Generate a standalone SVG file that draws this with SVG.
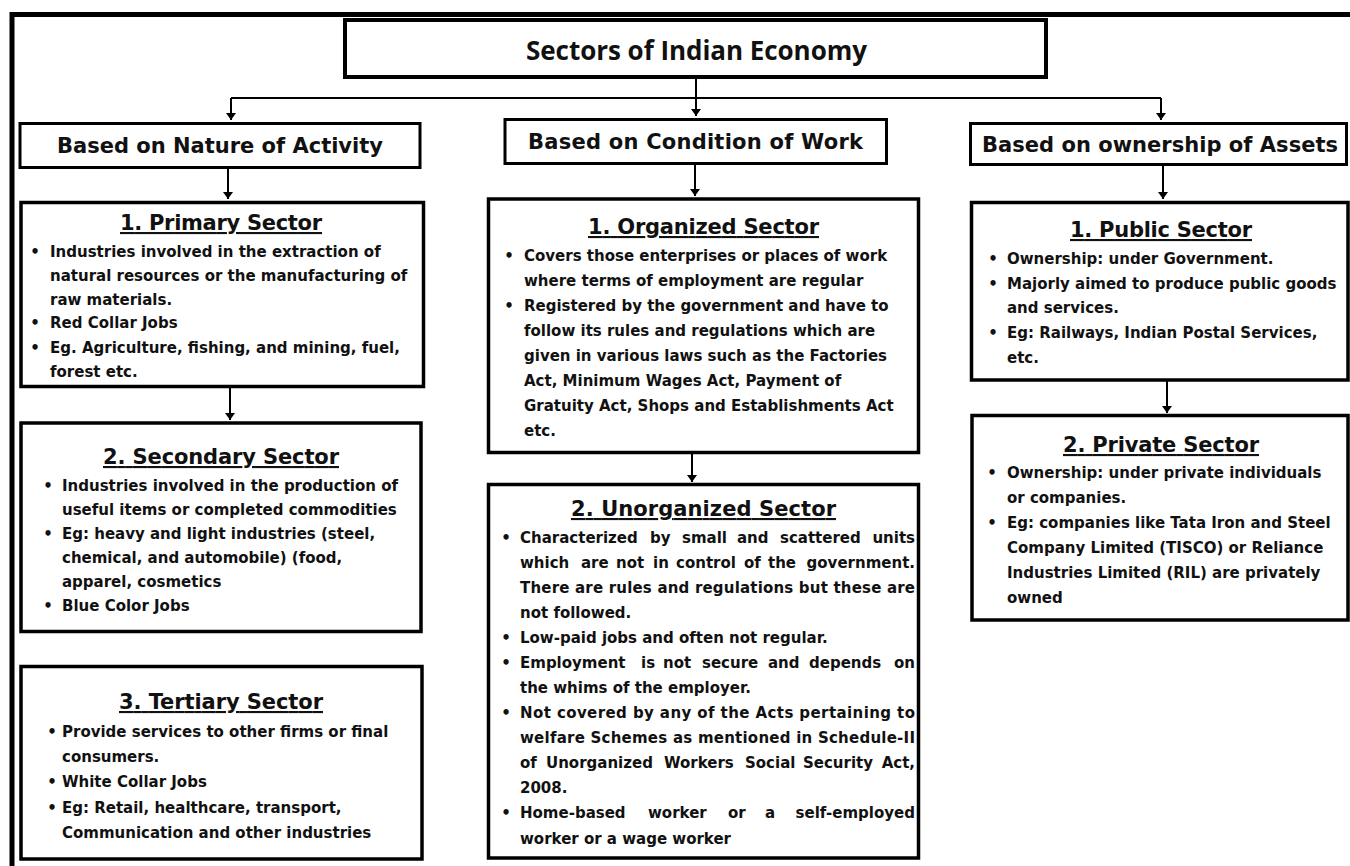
<svg xmlns="http://www.w3.org/2000/svg" width="1350" height="866" viewBox="0 0 1350 866">
<defs>
<marker id="arr" markerUnits="userSpaceOnUse" markerWidth="10" markerHeight="10" refX="7" refY="5" orient="auto">
<path d="M0,0 L7,5 L0,10 z" fill="#000"/>
</marker>
<style>
.box{fill:#fff;stroke:#000;stroke-width:3.5}
.hbox{fill:#fff;stroke:#000;stroke-width:3}
.tbox{fill:#fff;stroke:#000;stroke-width:4}
.t{font-family:"DejaVu Sans","Liberation Sans",sans-serif;font-weight:bold;font-size:15px;fill:#111}
.b{text-anchor:middle}
.e{text-anchor:end}
.h{font-family:"DejaVu Sans","Liberation Sans",sans-serif;font-weight:bold;font-size:21px;fill:#111;text-anchor:middle}
.st{font-family:"DejaVu Sans","Liberation Sans",sans-serif;font-weight:bold;font-size:21px;fill:#111;text-anchor:middle;text-decoration:underline}
.title{font-family:"Open Sans","Liberation Sans",sans-serif;font-weight:bold;font-size:26px;fill:#111;text-anchor:middle}
.conn{stroke:#000;stroke-width:2;fill:none}
</style>
</defs>
<rect width="1350" height="866" fill="#fff"/>
<path d="M12,866 V14.5 H1350" fill="none" stroke="#000" stroke-width="5"/>

<g id="connectors">
<path class="conn" d="M696,79 V116" marker-end="url(#arr)"/>
<path class="conn" d="M231,98 H1161"/>
<path class="conn" d="M231,98 V120" marker-end="url(#arr)"/>
<path class="conn" d="M1161,98 V120" marker-end="url(#arr)"/>
<path class="conn" d="M228,168 V199" marker-end="url(#arr)"/>
<path class="conn" d="M695,164 V196" marker-end="url(#arr)"/>
<path class="conn" d="M1163,165 V199" marker-end="url(#arr)"/>
<path class="conn" d="M230,388 V420" marker-end="url(#arr)"/>
<path class="conn" d="M692,454 V482" marker-end="url(#arr)"/>
<path class="conn" d="M1167,381 V413" marker-end="url(#arr)"/>
</g>

<g id="title">
<rect class="tbox" x="345" y="20" width="701" height="57"/>
<text class="title" x="696.5" y="60" textLength="341" lengthAdjust="spacing">Sectors of Indian Economy</text>
</g>

<g id="nature">
<rect class="hbox" x="20" y="123.5" width="400" height="44"/>
<text class="h" x="220" y="153" textLength="326" lengthAdjust="spacing">Based on Nature of Activity</text>
</g>
<g id="condition">
<rect class="hbox" x="505" y="119.5" width="381.5" height="44"/>
<text class="h" x="695.5" y="149" textLength="335" lengthAdjust="spacing">Based on Condition of Work</text>
</g>
<g id="ownership">
<rect class="hbox" x="970.5" y="123.5" width="376" height="41"/>
<text class="h" x="1160" y="152" textLength="356" lengthAdjust="spacing">Based on ownership of Assets</text>
</g>

<g id="primary">
<rect class="box" x="21" y="202.5" width="402.5" height="184"/>
<text class="st" x="221" y="230" textLength="202" lengthAdjust="spacing">1. Primary Sector</text>
<text class="t b" x="35" y="257">•</text>
<text class="t" x="50" y="257">Industries involved in the extraction of</text>
<text class="t" x="50" y="281">natural resources or the manufacturing of</text>
<text class="t" x="50" y="305">raw materials.</text>
<text class="t b" x="35" y="328">•</text>
<text class="t" x="50" y="328">Red Collar Jobs</text>
<text class="t b" x="35" y="353">•</text>
<text class="t" x="50" y="353">Eg. Agriculture, fishing, and mining, fuel,</text>
<text class="t" x="50" y="377">forest etc.</text>
</g>

<g id="secondary">
<rect class="box" x="21" y="423" width="400" height="208.5"/>
<text class="st" x="221" y="464" textLength="236" lengthAdjust="spacing">2. Secondary Sector</text>
<text class="t b" x="48" y="491">•</text>
<text class="t" x="62" y="491">Industries involved in the production of</text>
<text class="t" x="62" y="515">useful items or completed commodities</text>
<text class="t b" x="48" y="539">•</text>
<text class="t" x="62" y="539">Eg: heavy and light industries (steel,</text>
<text class="t" x="62" y="563">chemical, and automobile) (food,</text>
<text class="t" x="62" y="587">apparel, cosmetics</text>
<text class="t b" x="48" y="611">•</text>
<text class="t" x="62" y="611">Blue Color Jobs</text>
</g>

<g id="tertiary">
<rect class="box" x="21" y="666.5" width="401" height="192.5"/>
<text class="st" x="221" y="709" textLength="204" lengthAdjust="spacing">3. Tertiary Sector</text>
<text class="t b" x="52" y="737">•</text>
<text class="t" x="62" y="737">Provide services to other firms or final</text>
<text class="t" x="62" y="762">consumers.</text>
<text class="t b" x="52" y="787">•</text>
<text class="t" x="62" y="787">White Collar Jobs</text>
<text class="t b" x="52" y="813">•</text>
<text class="t" x="62" y="813">Eg: Retail, healthcare, transport,</text>
<text class="t" x="62" y="838">Communication and other industries</text>
</g>

<g id="organized">
<rect class="box" x="488.5" y="199" width="430" height="253.5"/>
<text class="st" x="703.5" y="234" textLength="231" lengthAdjust="spacing">1. Organized Sector</text>
<text class="t b" x="509" y="261">•</text>
<text class="t" x="524" y="261">Covers those enterprises or places of work</text>
<text class="t" x="524" y="286">where terms of employment are regular</text>
<text class="t b" x="509" y="311">•</text>
<text class="t" x="524" y="311">Registered by the government and have to</text>
<text class="t" x="524" y="336">follow its rules and regulations which are</text>
<text class="t" x="524" y="361">given in various laws such as the Factories</text>
<text class="t" x="524" y="386">Act, Minimum Wages Act, Payment of</text>
<text class="t" x="524" y="411">Gratuity Act, Shops and Establishments Act</text>
<text class="t" x="524" y="436">etc.</text>
</g>

<g id="unorganized">
<rect class="box" x="488.5" y="484.5" width="430" height="373.5"/>
<text class="st" x="703.5" y="516" textLength="265" lengthAdjust="spacing">2. Unorganized Sector</text>
<text class="t b" x="506" y="543">•</text>
<text class="t" y="543"><tspan x="520">Characterized</tspan> <tspan x="650">by</tspan> <tspan x="682">small</tspan> <tspan x="737">and</tspan> <tspan x="780">scattered</tspan></text>
<text class="t e" x="915" y="543">units</text>
<text class="t" y="568"><tspan x="520">which</tspan> <tspan x="581">are</tspan> <tspan x="616">not</tspan> <tspan x="653">in</tspan> <tspan x="676">control</tspan> <tspan x="744">of</tspan> <tspan x="768">the</tspan></text>
<text class="t e" x="915" y="568">government.</text>
<text class="t" x="520" y="593" textLength="395" lengthAdjust="spacing">There are rules and regulations but these are</text>
<text class="t" x="520" y="618">not followed.</text>
<text class="t b" x="506" y="643">•</text>
<text class="t" x="520" y="643">Low-paid jobs and often not regular.</text>
<text class="t b" x="506" y="668">•</text>
<text class="t" y="668"><tspan x="520">Employment</tspan> <tspan x="641">is</tspan> <tspan x="663">not</tspan> <tspan x="702">secure</tspan> <tspan x="768">and</tspan> <tspan x="809">depends</tspan></text>
<text class="t e" x="915" y="668">on</text>
<text class="t" x="520" y="693">the whims of the employer.</text>
<text class="t b" x="506" y="718">•</text>
<text class="t" x="520" y="718" textLength="395" lengthAdjust="spacing">Not covered by any of the Acts pertaining to</text>
<text class="t" x="520" y="743" textLength="395" lengthAdjust="spacing">welfare Schemes as mentioned in Schedule-II</text>
<text class="t" y="768"><tspan x="520">of</tspan> <tspan x="546">Unorganized</tspan> <tspan x="664">Workers</tspan> <tspan x="745">Social</tspan> <tspan x="803">Security</tspan></text>
<text class="t e" x="915" y="768">Act,</text>
<text class="t" x="520" y="793">2008.</text>
<text class="t b" x="506" y="818">•</text>
<text class="t" y="818"><tspan x="520">Home-based</tspan> <tspan x="648">worker</tspan> <tspan x="728">or</tspan> <tspan x="765">a</tspan></text>
<text class="t e" x="915" y="818">self-employed</text>
<text class="t" x="520" y="844">worker or a wage worker</text>
</g>

<g id="public">
<rect class="box" x="971.5" y="202.5" width="376.5" height="177.5"/>
<text class="st" x="1161" y="237" textLength="182" lengthAdjust="spacing">1. Public Sector</text>
<text class="t b" x="993" y="264">•</text>
<text class="t" x="1007" y="264">Ownership: under Government.</text>
<text class="t b" x="993" y="289">•</text>
<text class="t" x="1007" y="289">Majorly aimed to produce public goods</text>
<text class="t" x="1007" y="313">and services.</text>
<text class="t b" x="993" y="338">•</text>
<text class="t" x="1007" y="338">Eg: Railways, Indian Postal Services,</text>
<text class="t" x="1007" y="363">etc.</text>
</g>

<g id="private">
<rect class="box" x="972" y="415.5" width="376" height="204.5"/>
<text class="st" x="1161" y="452" textLength="196" lengthAdjust="spacing">2. Private Sector</text>
<text class="t b" x="992" y="478">•</text>
<text class="t" x="1007" y="478">Ownership: under private individuals</text>
<text class="t" x="1007" y="503">or companies.</text>
<text class="t b" x="992" y="528">•</text>
<text class="t" x="1007" y="528">Eg: companies like Tata Iron and Steel</text>
<text class="t" x="1007" y="553">Company Limited (TISCO) or Reliance</text>
<text class="t" x="1007" y="578">Industries Limited (RIL) are privately</text>
<text class="t" x="1007" y="603">owned</text>
</g>
</svg>
